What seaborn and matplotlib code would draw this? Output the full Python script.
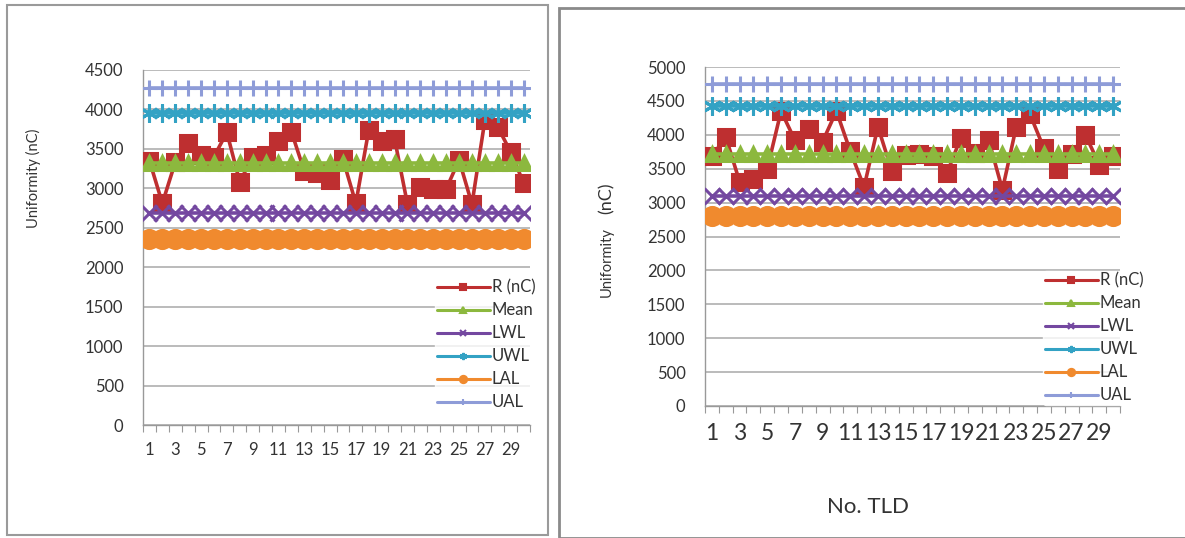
import matplotlib
matplotlib.use("Agg")
import matplotlib.pyplot as plt
from matplotlib.patches import Rectangle
from matplotlib.ticker import MultipleLocator
import seaborn as sns
import pandas as pd

sns.set_theme(style="white")
plt.rcParams["font.family"] = ["Lato", "DejaVu Sans"]

# --- data -------------------------------------------------------------
tld = list(range(1, 31))

r_left = [3350, 2810, 3330, 3580, 3420, 3400, 3710, 3080, 3400, 3420,
          3600, 3720, 3220, 3200, 3100, 3370, 2810, 3740, 3600, 3630,
          2800, 3020, 2990, 2990, 3360, 2800, 3860, 3780, 3460, 3070]
limits_left = {"Mean": 3320, "LWL": 2690, "UWL": 3960, "LAL": 2360, "UAL": 4270}

r_right = [3680, 3970, 3310, 3350, 3500, 4350, 3920, 4090, 3900, 4350,
           3760, 3230, 4120, 3470, 3700, 3720, 3690, 3440, 3960, 3730,
           3930, 3190, 4120, 4300, 3800, 3500, 3720, 4000, 3560, 3680]
limits_right = {"Mean": 3720, "LWL": 3100, "UWL": 4430, "LAL": 2800, "UAL": 4750}

series_names = ["R (nC)", "Mean", "LWL", "UWL", "LAL", "UAL"]
colors = {"R (nC)": "#BE2F30", "Mean": "#8CB83E", "LWL": "#7448A0",
          "UWL": "#33A2C4", "LAL": "#F08A2E", "UAL": "#8E9CD8"}
markers = {"R (nC)": "s", "Mean": "^", "LWL": "x", "UWL": (6, 2, 0),
           "LAL": "o", "UAL": "+"}
msizes = {"R (nC)": 12, "Mean": 10, "LWL": 11, "UWL": 13, "LAL": 13, "UAL": 12}


def build_frame(r_vals, limits):
    cols = {"No. TLD": tld, "R (nC)": r_vals}
    for name, val in limits.items():
        cols[name] = [val] * len(tld)
    return pd.DataFrame(cols)


def draw_panel(ax, df, ymax, xtick_size, legend_anchor):
    for name in series_names:
        sns.lineplot(data=df, x="No. TLD", y=name, ax=ax, color=colors[name],
                     marker=markers[name], markersize=msizes[name],
                     markeredgecolor=colors[name], markeredgewidth=2.2,
                     linewidth=2.6, label=name, zorder=3)
    ax.set_xlim(0.5, 30.5)
    ax.set_ylim(0, ymax)
    ax.yaxis.set_major_locator(MultipleLocator(500))
    ax.set_xticks(tld[::2])
    ax.set_xticks([i + 0.5 for i in range(0, 31)], minor=True)
    ax.tick_params(axis="x", which="major", length=0, labelsize=xtick_size,
                   pad=12, colors="#333333")
    ax.tick_params(axis="x", which="minor", length=5, width=0.8,
                   direction="out", color="#999999", bottom=True)
    ax.tick_params(axis="y", length=0, labelsize=12, pad=14, colors="#333333")
    ax.grid(axis="y", color="#A8A8A8", linewidth=1.1, zorder=0)
    ax.set_axisbelow(True)
    for s in ["top", "right"]:
        ax.spines[s].set_visible(False)
    for s in ["left", "bottom"]:
        ax.spines[s].set_color("#999999")
        ax.spines[s].set_linewidth(1.0)
    ax.set_xlabel("")
    ax.set_ylabel("")
    leg = ax.legend(loc="lower right", bbox_to_anchor=legend_anchor,
                    bbox_transform=fig.transFigure, frameon=True,
                    fontsize=12, handlelength=3.2, handletextpad=0.1,
                    labelspacing=0.42, borderpad=0.1, borderaxespad=0,
                    markerscale=0.4, numpoints=1)
    leg.get_frame().set_facecolor("white")
    leg.get_frame().set_edgecolor("white")
    for line in leg.get_lines():
        line.set_linewidth(2.2)
        line.set_markeredgewidth(1.5)
    for txt in leg.get_texts():
        txt.set_color("#333333")
    leg.set_zorder(5)


W, H = 1185, 538
fig = plt.figure(figsize=(W / 100, H / 100), dpi=100)
fig.patch.set_facecolor("white")

# panel frames
fig.patches.append(Rectangle((7 / W, 1 - 535 / H), 541 / W, 530 / H,
                             transform=fig.transFigure, fill=False,
                             edgecolor="#9A9A9A", linewidth=1.5))
fig.patches.append(Rectangle((559 / W, 0), 640 / W, 1 - 8 / H,
                             transform=fig.transFigure, fill=False,
                             edgecolor="#8A8A8A", linewidth=2.0))

ax1 = fig.add_axes([143 / W, 1 - 425 / H, 387 / W, 355 / H])
ax2 = fig.add_axes([705 / W, 1 - 406 / H, 415 / W, 339 / H])

draw_panel(ax1, build_frame(r_left, limits_left), 4500, 12,
           (537 / W, 1 - 412 / H))
draw_panel(ax2, build_frame(r_right, limits_right), 5000, 16.5,
           (1145 / W, 1 - 405 / H))

fig.text(33 / W, 1 - 178 / H, "Uniformity (nC)", rotation=90,
         ha="center", va="center", fontsize=10.5, color="#333333")
fig.text(607 / W, 1 - 262 / H, "Uniformity", rotation=90,
         ha="center", va="center", fontsize=10.5, color="#333333")
fig.text(607 / W, 1 - 198 / H, "(nC)", rotation=90,
         ha="center", va="center", fontsize=13, color="#333333")
fig.text(868 / W, 1 - 507 / H, "No. TLD", ha="center", va="center",
         fontsize=16, color="#333333")

fig.savefig("out.png", dpi=100, facecolor="white")
